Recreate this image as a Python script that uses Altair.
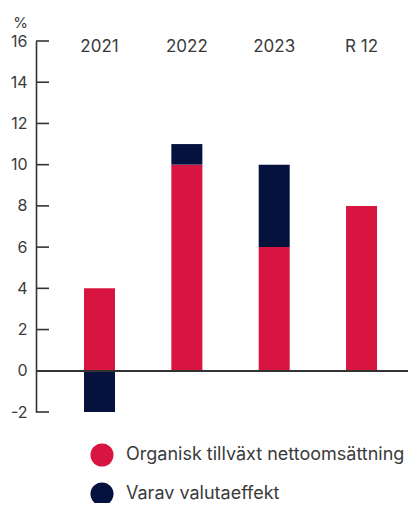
import altair as alt
import pandas as pd

categories = ["2021", "2022", "2023", "R 12"]
organic = [4, 10, 6, 8]
currency = [-2, 1, 4, 0]
series_names = ["Organisk tillväxt nettoomsättning", "Varav valutaeffekt"]
colors = ["#D81440", "#04123D"]
y_ticks = [-2, 0, 2, 4, 6, 8, 10, 12, 14, 16]

FONT = "Inter"
TXT = "#3a3a3a"

rows = []
for c, o, v in zip(categories, organic, currency):
    rows.append({"cat": c, "series": series_names[0], "value": o, "ord": 0})
    rows.append({"cat": c, "series": series_names[1], "value": v, "ord": 1})
df = pd.DataFrame(rows)
ticks_df = pd.DataFrame({"t": y_ticks})
cats_df = pd.DataFrame({"cat": categories})

xscale = alt.Scale(domain=categories, paddingInner=0.645, paddingOuter=0.452, align=0.608)
yscale = alt.Scale(domain=[-2, 16], nice=False, zero=False)

bars = alt.Chart(df).mark_bar(size=31).encode(
    x=alt.X("cat:N", scale=xscale, axis=None, sort=categories),
    y=alt.Y("value:Q", stack="zero", scale=yscale,
            axis=alt.Axis(values=y_ticks, ticks=False, grid=False, domain=True,
                          domainColor="#333333", domainWidth=1.6,
                          labelExpr="'' + datum.value",
                          labelFont=FONT, labelFontSize=16, labelColor=TXT,
                          labelPadding=9, title="%", titleAngle=0,
                          titleFont=FONT, titleFontSize=15, titleFontWeight="normal",
                          titleColor=TXT, titleX=-16, titleY=-14, titleAlign="center",
                          titleBaseline="alphabetic")),
    color=alt.Color("series:N", scale=alt.Scale(domain=series_names, range=colors),
                    legend=alt.Legend(title=None, orient="none", legendX=54, legendY=402,
                                      direction="vertical", symbolType="circle",
                                      symbolSize=530, symbolStrokeWidth=0,
                                      labelFont=FONT, labelFontSize=18, labelColor=TXT,
                                      labelOffset=12, rowPadding=15, padding=0,
                                      labelLimit=400)),
    order=alt.Order("ord:Q"),
)

tick_rules = alt.Chart(ticks_df).mark_rule(color="#333333", strokeWidth=1.6).encode(
    y=alt.Y("t:Q", scale=yscale),
    x=alt.value(0),
    x2=alt.value(13),
)

zero_line = alt.Chart(ticks_df).mark_rule(color="#333333", strokeWidth=1.6).encode(
    y=alt.datum(0),
    x=alt.value(0),
    x2=alt.value(374),
)

cat_labels = alt.Chart(cats_df).mark_text(
    font=FONT, fontSize=17, color=TXT, baseline="alphabetic", align="center"
).encode(
    x=alt.X("cat:N", scale=xscale, sort=categories),
    y=alt.value(11),
    text="cat:N",
)

chart = alt.layer(bars, tick_rules, zero_line, cat_labels).properties(
    width=372, height=371,
    padding={"left": 28, "top": 33, "right": 0, "bottom": 91},
    autosize=alt.AutoSizeParams(type="none"),
).configure_view(stroke=None)

chart.save("out.html", embed_options={"renderer": "svg", "actions": False})
